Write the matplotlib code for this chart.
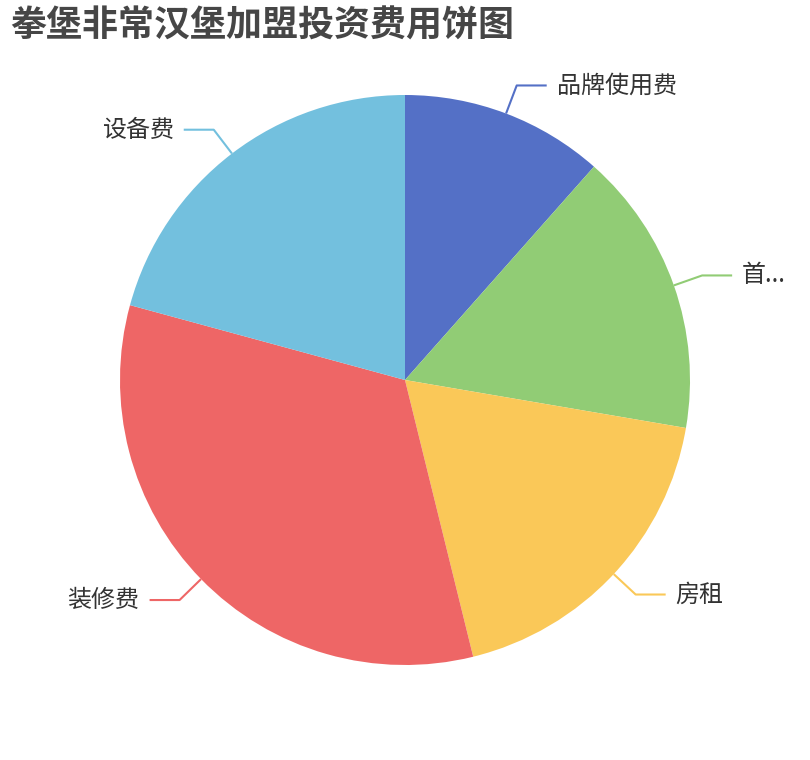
import numpy as np
import matplotlib
matplotlib.use("Agg")
import matplotlib.pyplot as plt

plt.rcParams['font.family'] = ['Noto Sans CJK SC', 'DejaVu Sans']

# data (share of investment)
names = ['品牌使用费', '首...', '房租', '装修费', '设备费']
values = [1.5, 2.1, 2.4, 4.3, 2.7]
colors = ['#5470c6', '#91cc75', '#fac858', '#ee6666', '#73c0de']
title = '拳堡非常汉堡加盟投资费用饼图'

W, H = 810, 760
fig = plt.figure(figsize=(W / 100, H / 100), dpi=100)
ax = fig.add_axes([0, 0, 1, 1])
ax.set_xlim(0, W)
ax.set_ylim(0, H)
ax.set_aspect('equal')
ax.axis('off')

cx, cy, r = 405, H - 380, 285
wedges, _ = ax.pie(values, colors=colors, startangle=90, counterclock=False,
                   center=(cx, cy), radius=r, frame=True)
ax.set_xlim(0, W)
ax.set_ylim(0, H)
ax.axis('off')

# leader lines and labels
for w, name, c in zip(wedges, names, colors):
    mid = np.deg2rad((w.theta1 + w.theta2) / 2)
    ux, uy = np.cos(mid), np.sin(mid)
    x0, y0 = cx + r * ux, cy + r * uy
    x1, y1 = cx + (r + 30) * ux, cy + (r + 30) * uy
    side = 1 if ux >= 0 else -1
    x2 = x1 + 30 * side
    ax.plot([x0, x1, x2], [y0, y1, y1], color=c, lw=1.5, solid_capstyle='butt')
    ax.text(x2 + 10 * side, y1, name, fontsize=17.3, color='#333333',
            ha='left' if side > 0 else 'right', va='center')

fig.text(10 / W, 1 - 8 / H, title, fontsize=25.9, fontweight='bold',
         color='#464646', ha='left', va='top')

fig.savefig('out.png', dpi=100)
